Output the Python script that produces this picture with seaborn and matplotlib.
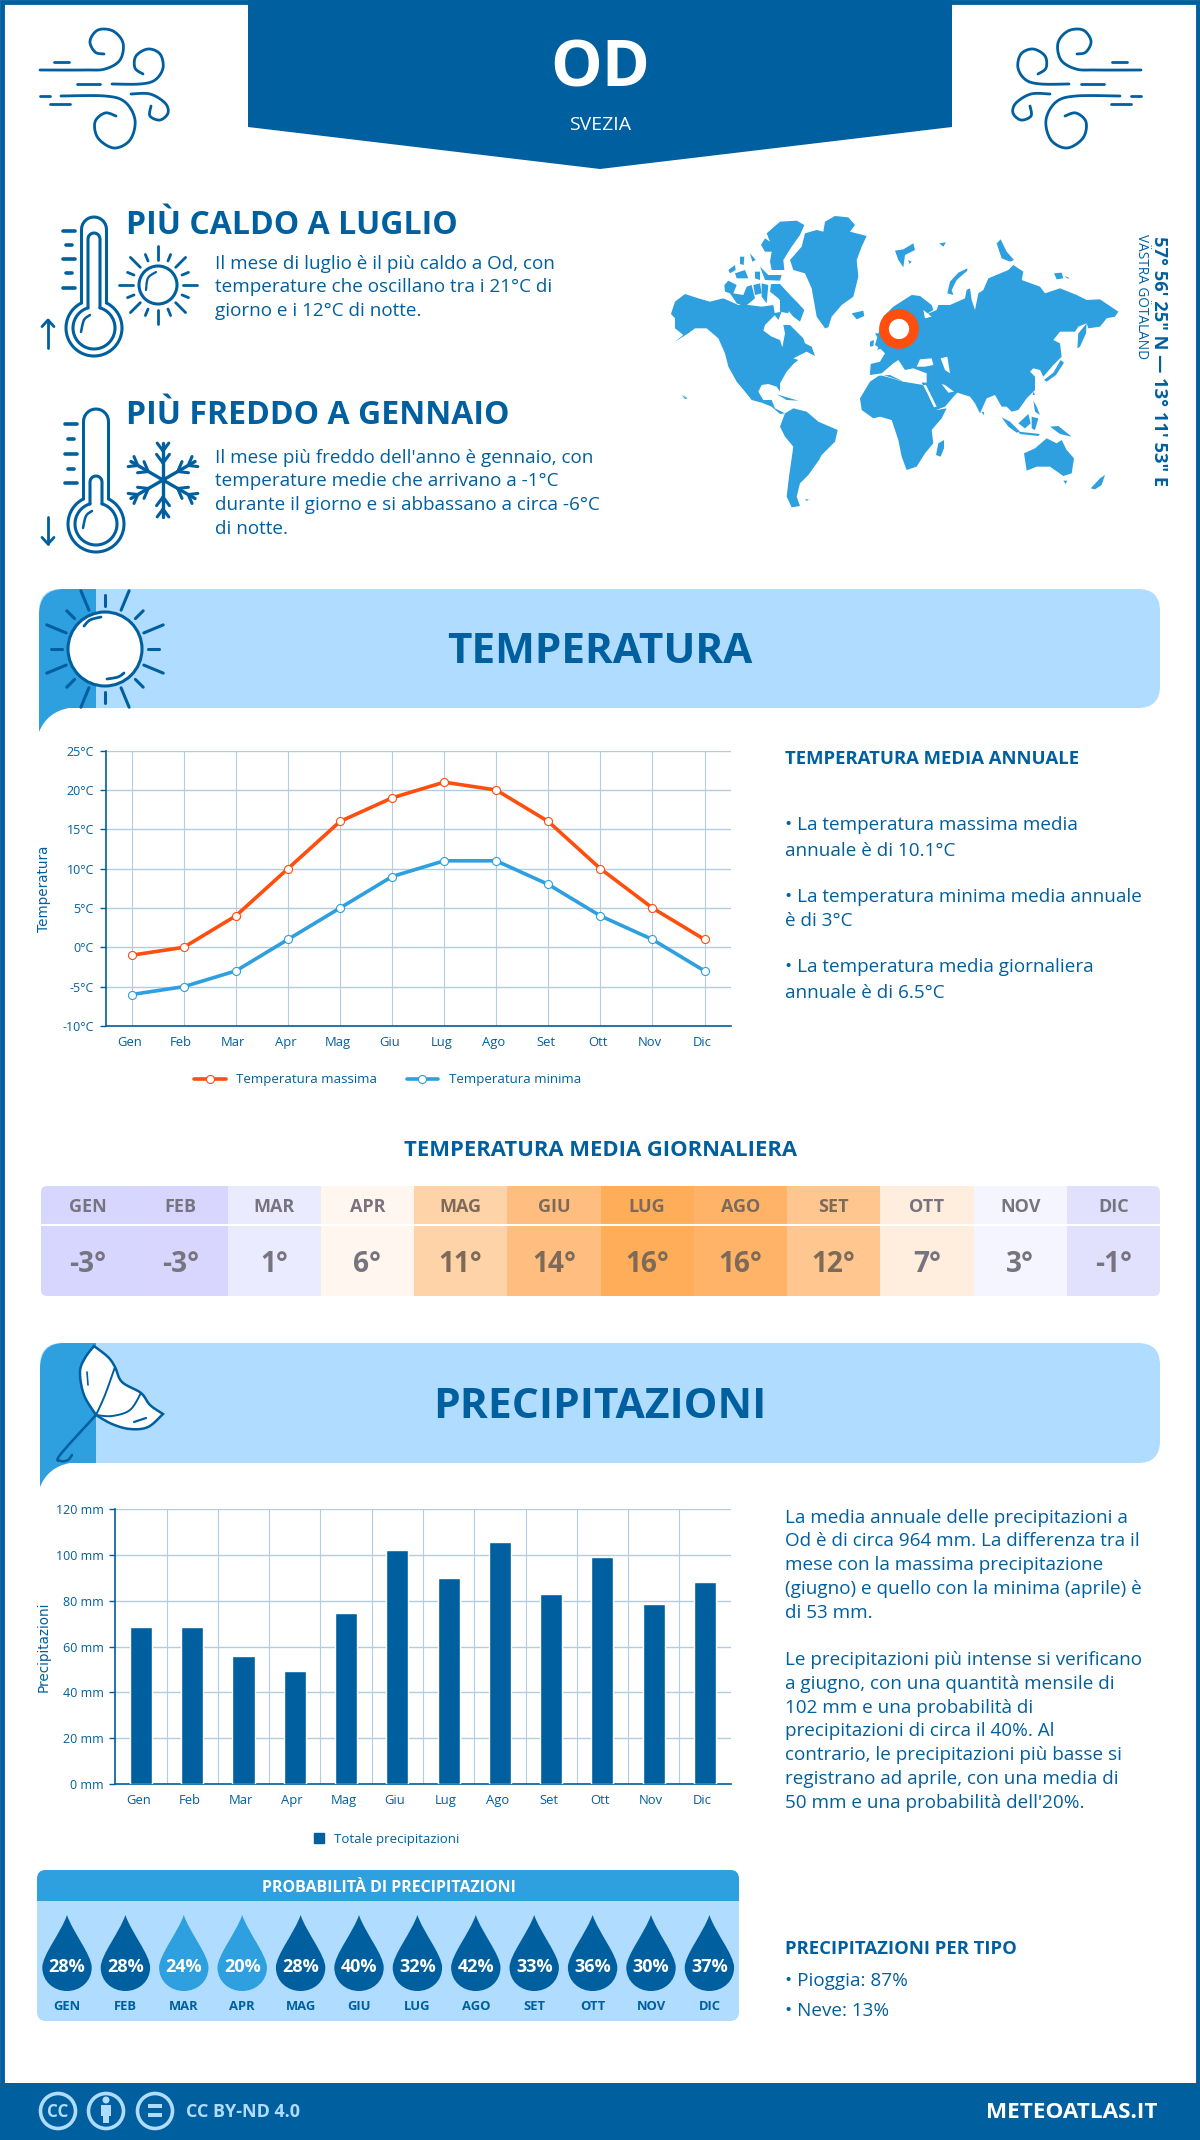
import numpy as np
import pandas as pd
import matplotlib
matplotlib.use("Agg")
import matplotlib.pyplot as plt
import seaborn as sns
from matplotlib.path import Path
from matplotlib.patches import PathPatch, Polygon, Circle, FancyBboxPatch, Patch
from matplotlib.colors import LinearSegmentedColormap
from matplotlib.transforms import ScaledTranslation

# data
months = ["Gen", "Feb", "Mar", "Apr", "Mag", "Giu", "Lug", "Ago", "Set", "Ott", "Nov", "Dic"]
months_upper = ["GEN", "FEB", "MAR", "APR", "MAG", "GIU", "LUG", "AGO", "SET", "OTT", "NOV", "DIC"]
temp_max = [-1, 0, 4, 10, 16, 19, 21, 20, 16, 10, 5, 1]
temp_min = [-6, -5, -3, 1, 5, 9, 11, 11, 8, 4, 1, -3]
temp_ticks = [-10, -5, 0, 5, 10, 15, 20, 25]
temp_daily = [-3.5, -2.5, 0.5, 5.5, 10.5, 14, 16, 15.5, 12, 7, 3, -1]
temp_daily_labels = ["-3°", "-3°", "1°", "6°", "11°", "14°", "16°", "16°", "12°", "7°", "3°", "-1°"]
precip = [68.7, 68.7, 56, 49.5, 74.8, 102.3, 90, 105.7, 83, 99.2, 78.7, 88.3]
precip_ticks = [0, 20, 40, 60, 80, 100, 120]
rain_prob = [28, 28, 24, 20, 28, 40, 32, 42, 33, 36, 30, 37]

DARK = "#005f9e"
MID = "#2e9fdf"
LIGHT = "#b0dcff"
ORANGE = "#ff4e0d"
GRID = "#b3cde0"

sns.set_theme(style="white")
plt.rcParams["font.family"] = ["Open Sans", "DejaVu Sans"]

W, H = 1200, 2140
fig = plt.figure(figsize=(W / 100, H / 100), dpi=100, facecolor="white")

# whole page axes in pixels, everything decorative goes here
page = fig.add_axes([0, 0, 1, 1])
page.set_xlim(0, W)
page.set_ylim(H, 0)
page.axis("off")


def px(size):
    return size * 0.72


def text(x, y, s, size, color=DARK, weight="normal", ha="left", **kw):
    return page.text(x, y, s, fontsize=px(size), color=color, fontweight=weight, ha=ha, va="center", **kw)


def axes_px(left, top, right, bottom):
    return fig.add_axes([left / W, 1 - bottom / H, (right - left) / W, (bottom - top) / H])


def smooth(points, n=14):
    # catmull-rom through the points, good enough for the icons
    p = np.array(points, dtype=float)
    p = np.vstack([p[0], p, p[-1]])
    out = []
    for i in range(1, len(p) - 2):
        for t in np.linspace(0, 1, n, endpoint=False):
            out.append(0.5 * (2 * p[i] + (p[i + 1] - p[i - 1]) * t
                              + (2 * p[i - 1] - 5 * p[i] + 4 * p[i + 1] - p[i + 2]) * t ** 2
                              + (3 * p[i] - p[i - 1] - 3 * p[i + 1] + p[i + 2]) * t ** 3))
    out.append(p[-2])
    return np.array(out)


def stroke(points, lw=2.0, color=DARK, curve=True, z=3):
    pts = smooth(points) if curve else np.array(points, dtype=float)
    page.plot(pts[:, 0], pts[:, 1], color=color, lw=lw, solid_capstyle="round", zorder=z)


# frame and footer
page.add_patch(plt.Rectangle((1.5, 1.5), W - 3.5, H - 3, fill=False, ec=DARK, lw=3.5))
page.add_patch(plt.Rectangle((0, 2083), W, 57, color=DARK, lw=0))

# header
page.add_patch(Polygon([(248, 0), (952, 0), (952, 127), (600, 169), (248, 127)], color=DARK, lw=0))
text(600, 70, "OD", 65, "white", "bold", ha="center")
text(600, 125, "SVEZIA", 19.5, "white", ha="center")


# wind icons
def wind(fx):
    def pts(lst):
        return [(fx(x), y) for x, y in lst]
    stroke(pts([(40, 70), (85, 70), (105, 69), (120, 60), (123, 43), (113, 31), (98, 30), (90, 41), (95, 52), (104, 54)]))
    stroke(pts([(112, 84), (140, 84), (155, 80), (163, 68), (160, 54), (148, 49), (136, 56), (135, 68), (143, 74)]))
    stroke(pts([(54, 62), (69, 62)]), curve=False)
    stroke(pts([(77, 84), (100, 84)]), curve=False)
    stroke(pts([(40, 96), (50, 96)]), curve=False)
    stroke(pts([(61, 96), (105, 96), (125, 102), (135, 120), (130, 140), (114, 148), (98, 138), (95, 122), (105, 113), (116, 116)]))
    stroke(pts([(131, 94), (150, 94), (165, 103), (168, 113), (160, 120), (150, 116), (151, 106)]))
    stroke(pts([(50, 104), (70, 104)]), curve=False)


wind(lambda x: x)
wind(lambda x: 1181 - x)


def thermometer(cx, cy, top, inner_top, ticks, arrow_from, arrow_to):
    r = 28
    half = 12.5
    d1 = np.arcsin(half / r)
    theta = np.linspace(np.pi / 2 - d1, -3 * np.pi / 2 + d1, 70)
    outer = [(cx + r * np.cos(t), cy - r * np.sin(t)) for t in theta]
    tube = [(cx - half, cy - r * np.cos(d1)), (cx - half, top + half)] + \
           [(cx - half * np.cos(t), top + half - half * np.sin(t)) for t in np.linspace(0, np.pi, 15)] + \
           [(cx + half, cy - r * np.cos(d1))]
    stroke(tube, curve=False, lw=2.2)
    stroke(outer, curve=False, lw=2.2)
    r2 = 21
    h2 = 6
    d2 = np.arcsin(h2 / r2)
    theta2 = np.linspace(np.pi / 2 - d2, -3 * np.pi / 2 + d2, 60)
    stroke([(cx + r2 * np.cos(t), cy - r2 * np.sin(t)) for t in theta2], curve=False, lw=2.2)
    stroke([(cx - h2, cy - r2 * np.cos(d2)), (cx - h2, inner_top + h2)] +
           [(cx - h2 * np.cos(t), inner_top + h2 - h2 * np.sin(t)) for t in np.linspace(0, np.pi, 12)] +
           [(cx + h2, cy - r2 * np.cos(d2))], curve=False, lw=2.2)
    stroke([(cx - 13, cy + 4), (cx - 10, cy - 8), (cx - 4, cy - 13)], lw=1.8)
    for i, y in enumerate(ticks):
        stroke([(cx - 31 + (3 if i % 2 else 0), y), (cx - 19 - (3 if i % 2 else 0), y)], curve=False, lw=2.6)
    ax_ = 48
    stroke([(ax_, arrow_from), (ax_, arrow_to)], curve=False, lw=2.0)
    d = 6 if arrow_to < arrow_from else -6
    stroke([(ax_ - 6, arrow_to + d * 1.1), (ax_, arrow_to), (ax_ + 6, arrow_to + d * 1.1)], curve=False, lw=2.0)


thermometer(94, 328, 217, 233, [231, 245, 259, 273, 288], 348, 320)
thermometer(96, 524, 409, 476, [424, 439, 454, 469, 483], 517, 544)

# small sun
page.add_patch(Circle((158, 285), 19, fc="white", ec=DARK, lw=2.2, zorder=3))
stroke([(146, 290), (148, 278), (156, 272)], lw=1.6)
for k in range(16):
    a = k * np.pi / 8
    r0, r1 = (25, 39) if k % 2 == 0 else (26, 33)
    stroke([(158 + r0 * np.cos(a), 285 + r0 * np.sin(a)), (158 + r1 * np.cos(a), 285 + r1 * np.sin(a))], curve=False, lw=2.0)

# snowflake
for k in range(6):
    a = k * np.pi / 3 + np.pi / 2
    ca, sa = np.cos(a), np.sin(a)
    stroke([(163, 480), (163 + 37 * ca, 480 + 37 * sa)], curve=False, lw=2.4)
    for rr, ss in [(30, 9), (18, 10)]:
        for sign in (-1, 1):
            b = a + sign * 0.7
            stroke([(163 + (rr - ss * 0.1) * ca, 480 + (rr - ss * 0.1) * sa),
                    (163 + rr * ca + ss * np.cos(b), 480 + rr * sa + ss * np.sin(b))], curve=False, lw=2.2)

# intro texts
text(126, 225, "PIÙ CALDO A LUGLIO", 32, weight="bold")
for y, line in zip([264, 287, 311], ["Il mese di luglio è il più caldo a Od, con",
                                     "temperature che oscillano tra i 21°C di",
                                     "giorno e i 12°C di notte."]):
    text(215, y, line, 18.85)
text(126, 415, "PIÙ FREDDO A GENNAIO", 32, weight="bold")
for y, line in zip([458, 481, 505, 529], ["Il mese più freddo dell'anno è gennaio, con",
                                          "temperature medie che arrivano a -1°C",
                                          "durante il giorno e si abbassano a circa -6°C",
                                          "di notte."]):
    text(215, y, line, 18.85)

# world map outlines, traced by hand, in two crops of the map
land_west = [
    [(20, 305), (30, 275), (60, 252), (100, 265), (135, 275), (175, 265), (220, 285), (250, 285), (290, 290), (325, 285),
     (330, 315), (300, 345), (295, 362), (320, 380), (345, 390), (352, 412), (360, 370), (355, 345), (375, 345), (395, 365),
     (415, 385), (420, 400), (440, 410), (450, 438), (425, 425), (395, 440), (385, 445), (400, 450), (385, 462), (365, 485),
     (345, 520), (345, 545), (335, 530), (310, 522), (290, 525), (280, 545), (295, 570), (320, 570), (330, 595), (360, 610),
     (345, 612), (320, 590), (290, 578), (260, 570), (240, 545), (215, 515), (190, 470), (180, 430), (160, 385), (125, 355),
     (90, 355), (70, 370), (30, 395), (55, 375), (30, 355), (30, 325), (18, 312)],
    [(318, 222), (345, 222), (375, 255), (395, 275), (418, 300), (405, 335), (385, 320), (360, 290), (340, 265), (315, 245)],
    [(305, 70), (345, 35), (395, 32), (418, 45), (405, 75), (380, 110), (355, 150), (358, 180), (320, 180), (315, 155),
     (320, 125), (300, 125), (288, 105), (300, 85), (315, 95)],
    [(375, 150), (410, 110), (420, 70), (455, 60), (475, 65), (480, 35), (510, 18), (550, 22), (570, 45), (555, 65), (605, 78),
     (590, 110), (575, 150), (580, 200), (565, 260), (530, 285), (500, 320), (490, 352), (480, 355), (455, 320), (448, 280),
     (440, 235), (420, 190), (385, 180)],
    [(178, 225), (190, 212), (215, 225), (205, 250), (235, 255), (245, 230), (260, 225), (270, 265), (240, 290), (215, 280),
     (195, 250), (180, 245)],
    [(190, 180), (210, 165), (212, 180), (195, 190)],
    [(210, 190), (240, 180), (250, 205), (215, 205)],
    [(255, 130), (272, 150), (262, 155)],
    [(225, 140), (238, 140), (236, 165), (225, 162)],
    [(270, 185), (285, 185), (285, 210), (270, 205)],
    [(285, 170), (310, 195), (350, 195), (345, 212), (300, 210)],
    [(265, 225), (285, 220), (290, 250), (270, 255)],
    [(290, 220), (310, 225), (305, 280), (290, 260)],
    [(325, 310), (350, 305), (340, 330)],
    [(345, 270), (375, 285), (370, 310), (345, 305)],
    [(560, 310), (595, 302), (598, 318), (575, 328)],
    [(335, 553), (365, 562), (400, 572), (365, 570)],
    [(50, 555), (68, 565), (60, 567)],
    [(345, 650), (360, 610), (385, 595), (425, 605), (460, 635), (518, 660), (510, 695), (470, 735), (462, 750), (430, 795),
     (405, 820), (395, 860), (405, 888), (380, 892), (365, 860), (372, 800), (385, 710), (360, 680)],
    [(420, 868), (432, 868), (425, 873)],
]
land_east = [
    # eurasia, europe to arabia
    [(0, 490), (2, 462), (30, 455), (45, 430), (30, 415), (15, 405), (40, 320), (70, 290), (125, 255), (150, 258), (185, 285),
     (190, 300), (165, 315), (200, 300), (205, 285), (240, 285), (285, 265), (290, 240), (300, 235), (305, 270), (315, 300),
     (325, 250), (340, 240), (355, 205), (415, 180), (430, 165), (460, 185), (455, 210), (510, 230), (525, 250), (570, 235),
     (620, 255), (650, 270), (690, 268), (745, 305), (735, 320), (710, 325), (690, 350), (655, 355), (650, 340), (625, 350),
     (615, 365), (570, 365), (550, 390), (570, 400), (575, 440), (550, 465), (520, 500), (510, 480), (490, 475), (480, 485),
     (495, 500), (495, 540), (470, 565), (445, 600), (425, 605), (410, 590), (395, 590), (375, 555), (350, 565), (330, 610),
     (315, 580), (300, 560), (262, 548), (255, 555), (225, 590), (198, 600), (165, 530), (155, 520), (165, 500), (130, 500),
     (100, 515), (40, 495), (0, 495)],
    # africa
    [(-30, 565), (0, 515), (30, 495), (100, 515), (160, 525), (200, 600), (230, 595), (215, 625), (185, 660), (190, 700),
     (165, 730), (140, 770), (110, 780), (95, 740), (85, 690), (65, 630), (30, 620), (10, 625), (-25, 600)],
    # islands
    [(198, 735), (205, 700), (222, 690), (222, 715), (212, 740)],
    [(522, 510), (550, 488), (572, 450), (582, 458), (558, 495), (530, 515)],
    [(622, 415), (625, 370), (650, 340), (648, 370), (630, 410)],
    [(75, 122), (100, 118), (130, 100), (135, 120), (105, 135), (100, 172), (85, 150)],
    [(115, 150), (125, 155), (118, 162)],
    [(208, 100), (228, 97), (220, 110)],
    [(380, 100), (392, 88), (410, 125), (432, 150), (420, 155), (395, 145)],
    [(232, 250), (240, 215), (265, 188), (292, 175), (292, 182), (260, 210), (245, 240), (250, 255)],
    [(552, 190), (575, 188), (580, 205), (560, 208)],
    [(585, 198), (600, 205), (590, 205)],
    [(15, 370), (25, 370), (45, 410), (22, 420), (30, 395)],
    [(0, 395), (12, 390), (10, 408), (0, 410)],
    [(462, 730), (495, 715), (530, 685), (560, 700), (575, 690), (590, 720), (612, 745), (605, 790), (580, 798), (540, 770),
     (500, 770), (470, 782)],
    [(580, 812), (592, 812), (587, 822)],
    [(662, 835), (690, 805), (705, 795), (695, 825), (675, 838)],
    [(395, 622), (420, 635), (450, 665), (440, 668), (415, 650)],
    [(445, 665), (510, 672), (505, 678), (450, 672)],
    [(445, 640), (475, 612), (482, 640), (465, 655)],
    [(485, 620), (505, 625), (495, 660), (485, 655)],
    [(540, 650), (565, 648), (605, 680), (570, 672)],
    [(490, 572), (500, 590), (510, 615), (495, 605)],
    [(490, 545), (495, 555), (488, 555)],
    [(335, 605), (343, 607), (340, 616)],
]
sea_east = [
    [(0, 495), (35, 490), (70, 460), (85, 450), (105, 480), (130, 475), (170, 490), (170, 518), (100, 515), (60, 495), (5, 498)],
    [(140, 470), (150, 448), (185, 445), (190, 465), (165, 470)],
    [(212, 445), (232, 440), (240, 490), (225, 480)],
    [(160, 525), (168, 525), (200, 590), (192, 592)],
    [(215, 522), (225, 525), (252, 545), (235, 548)],
    [(160, 300), (185, 320), (165, 325)],
]


def west_xy(pts):
    return [(665 + x / 3, 210 + y / 3) for x, y in pts]


def east_xy(pts):
    return [(870 + x / 3, 210 + y / 3) for x, y in pts]


for poly in land_west:
    page.add_patch(Polygon(west_xy(poly), color=MID, lw=0, zorder=2))
for poly in land_east:
    page.add_patch(Polygon(east_xy(poly), color=MID, lw=0, zorder=2))
for poly in sea_east:
    page.add_patch(Polygon(east_xy(poly), color="white", lw=0, zorder=2))
page.add_patch(Circle((899, 329), 15, fc="white", ec=ORANGE, lw=7, zorder=3))
text(1159, 361, "57° 56' 25\" N — 13° 11' 53\" E", 18.3, weight="bold", ha="center", rotation=-90)
text(1141, 297, "VÄSTRA GÖTALAND", 13.6, ha="center", rotation=-90)


def banner(left, top, bottom, title, size):
    page.add_patch(FancyBboxPatch((left, top), 1160 - left, bottom - top, boxstyle="round,pad=0,rounding_size=22", fc=LIGHT, ec="none"))
    tail = Path([(96, top), (64, top), (left, top), (left, top + 26), (left, bottom + 24), (left + 8, bottom + 4), (left + 30, bottom),
                 (96, bottom), (96, top)],
                [Path.MOVETO, Path.LINETO, Path.CURVE3, Path.CURVE3, Path.LINETO, Path.CURVE3, Path.CURVE3, Path.LINETO, Path.CLOSEPOLY])
    page.add_patch(PathPatch(tail, fc=MID, ec="none", zorder=1))
    text(600, (top + bottom) / 2 + 4, title, size, weight="bold", ha="center")


banner(39, 589, 708, "TEMPERATURA", 42.3)
banner(40, 1343, 1463, "PRECIPITAZIONI", 42.5)

# banner sun
page.add_patch(Circle((105, 649), 37, fc="white", ec=DARK, lw=2.2, zorder=3))
stroke([(84, 626), (90, 620), (101, 617)], lw=2)
stroke([(107, 679), (118, 677), (124, 673)], lw=2)
for k in range(16):
    a = k * np.pi / 8
    r0, r1 = (43, 54) if k % 2 == 0 else (42, 63)
    stroke([(105 + r0 * np.cos(a), 649 + r0 * np.sin(a)), (105 + r1 * np.cos(a), 649 + r1 * np.sin(a))], curve=False, lw=2.2)

# umbrella
canopy = np.vstack([smooth([(94, 1346), (108, 1357), (115, 1367), (122, 1382), (141, 1393), (150, 1405), (163, 1414)]),
                    smooth([(163, 1414), (148, 1427), (130, 1429), (112, 1424), (96, 1415)]),
                    smooth([(96, 1415), (84, 1395), (80, 1372), (85, 1358), (94, 1346)])])
page.add_patch(Polygon(canopy, fc="white", ec=DARK, lw=1.8, zorder=3))
stroke([(115, 1367), (105, 1395), (96, 1415)], lw=1.4)
stroke([(141, 1393), (130, 1410), (112, 1416), (96, 1415)], lw=1.4)
stroke([(87, 1372), (88, 1385)], lw=1.2)
stroke([(134, 1422), (146, 1418)], lw=1.6)
stroke([(96, 1415), (60, 1455), (61, 1461), (68, 1460), (72, 1455)], lw=1.8)

# temperature chart
ax = axes_px(105.6, 750.7, 730.6, 1026)
ax.patch.set_alpha(0)
sns.lineplot(x=months, y=temp_max, sort=False, ax=ax, color=ORANGE, lw=2.6, marker="o", ms=5.8, mfc="white", mec=ORANGE, mew=0.8,
             label="Temperatura massima", errorbar=None)
sns.lineplot(x=months, y=temp_min, sort=False, ax=ax, color=MID, lw=2.6, marker="o", ms=5.8, mfc="white", mec=MID, mew=0.8,
             label="Temperatura minima", errorbar=None)
ax.set_xlim(-0.5, 11.5)
ax.set_ylim(-10, 25)
ax.set_yticks(temp_ticks)
ax.set_yticklabels([f"{v}°C" for v in temp_ticks])
ax.legend(loc="center", bbox_to_anchor=((387.5 - 105.6) / 625, (1026 - 1080) / 275.3), ncol=2, frameon=False, fontsize=px(13.3),
          labelcolor=DARK, handlelength=2.4, columnspacing=2.2, handletextpad=0.8)
ax.set_ylabel("Temperatura", color=DARK, fontsize=px(13.5), family="DejaVu Sans", labelpad=0)
ax.yaxis.set_label_coords((51 - 105.6) / 625, 0.5)

# precipitation chart
ax2 = axes_px(115.3, 1509, 730.6, 1784)
ax2.patch.set_alpha(0)
sns.barplot(x=months, y=precip, ax=ax2, color=DARK, saturation=1, width=0.43, zorder=3)
ax2.set_xlim(-0.5, 11.5)
ax2.set_ylim(0, 120)
ax2.set_yticks(precip_ticks)
ax2.set_yticklabels([f"{v} mm" for v in precip_ticks])
ax2.set_xticks(np.arange(0.5, 11, 1), minor=True)
ax2.legend(handles=[Patch(color=DARK, label="Totale precipitazioni")], loc="center",
           bbox_to_anchor=((387 - 115.3) / 615.3, (1784 - 1839) / 275), frameon=False, fontsize=px(13.3), labelcolor=DARK,
           handlelength=0.7, handleheight=0.7, handletextpad=0.8)
ax2.set_ylabel("Precipitazioni", color=DARK, fontsize=px(13.5), family="DejaVu Sans", labelpad=0)
ax2.yaxis.set_label_coords((51 - 115.3) / 615.3, 0.5)

for a_ in (ax, ax2):
    a_.set_axisbelow(True)
    a_.set_xlabel("")
    a_.grid(axis="y", color=GRID, lw=1.0)
    a_.tick_params(axis="y", which="major", length=6 * 0.72, width=1, color=DARK, labelcolor=DARK, labelsize=px(12.5), pad=4, left=True)
    a_.tick_params(axis="x", which="both", length=0, labelcolor=DARK, labelsize=px(13), pad=7.5)
    for side in ("top", "right"):
        a_.spines[side].set_visible(False)
    for side in ("left", "bottom"):
        a_.spines[side].set_color(DARK)
        a_.spines[side].set_linewidth(1.2)
    shift = ScaledTranslation(-2.5 / 100, 0, fig.dpi_scale_trans)
    for lbl in a_.get_xticklabels():
        lbl.set_transform(lbl.get_transform() + shift)
ax.grid(axis="x", color=GRID, lw=0.8)
ax2.grid(axis="x", which="minor", color=GRID, lw=0.8)
ax2.grid(axis="x", which="major", visible=False)

# side texts
text(785, 759, "TEMPERATURA MEDIA ANNUALE", 18.5, weight="bold")
for y, line in zip([825.5, 850.5, 896.5, 921.5, 967.5, 992.5], ["• La temperatura massima media",
                                                                "annuale è di 10.1°C",
                                                                "• La temperatura minima media annuale",
                                                                "è di 3°C",
                                                                "• La temperatura media giornaliera",
                                                                "annuale è di 6.5°C"]):
    text(785, y, line, 18.85)

para = ["La media annuale delle precipitazioni a", "Od è di circa 964 mm. La differenza tra il",
        "mese con la massima precipitazione", "(giugno) e quello con la minima (aprile) è", "di 53 mm."]
para2 = ["Le precipitazioni più intense si verificano", "a giugno, con una quantità mensile di",
         "102 mm e una probabilità di", "precipitazioni di circa il 40%. Al", "contrario, le precipitazioni più basse si",
         "registrano ad aprile, con una media di", "50 mm e una probabilità dell'20%."]
for y, line in zip([1518, 1541, 1565, 1589, 1613], para):
    text(785, y, line, 18.85)
for y, line in zip([1660, 1684, 1708, 1731, 1755, 1779, 1803], para2):
    text(785, y, line, 18.85)
text(785, 1949, "PRECIPITAZIONI PER TIPO", 18.5, weight="bold")
text(785, 1981.5, "• Pioggia: 87%", 18.85)
text(785, 2010.5, "• Neve: 13%", 18.85)

# daily mean temperature table
text(600, 1150, "TEMPERATURA MEDIA GIORNALIERA", 22, weight="bold", ha="center")
heat_cmap = LinearSegmentedColormap.from_list("meteo", [
    (0.0, "#d6d6ff"), (1.0 / 19.5, "#d8d6fe"), (2.5 / 19.5, "#e2e1fd"), (4.0 / 19.5, "#ebebff"), (6.5 / 19.5, "#f5f5ff"),
    (9.0 / 19.5, "#fff6ef"), (10.5 / 19.5, "#ffeddd"), (14.0 / 19.5, "#ffd3a8"), (15.5 / 19.5, "#ffc78f"),
    (17.5 / 19.5, "#ffbe7f"), (19.0 / 19.5, "#ffb469"), (1.0, "#ffad59")])
ax3 = axes_px(41, 1186, 1160, 1296)
sns.heatmap(pd.DataFrame([temp_daily], columns=months), ax=ax3, cmap=heat_cmap, vmin=-3.5, vmax=16, cbar=False,
            xticklabels=False, yticklabels=False)
clip = FancyBboxPatch((41, 1186), 1119, 110, boxstyle="round,pad=0,rounding_size=6", transform=page.transData, fc="none", ec="none")
page.add_patch(clip)
ax3.collections[0].set_clip_path(clip)
ax3.axis("off")
ax3.set_ylim(1296, 1186)
ax3.collections[0].set_transform(matplotlib.transforms.Affine2D().scale(1, 110).translate(0, 1186) + ax3.transData)
for i in range(12):
    ink = "#77747f" if temp_daily[i] < 8 else "#7d6a58"
    ax3.text(i + 0.5, 1207, months_upper[i], color=ink, fontsize=px(18), fontweight="bold", ha="center", va="center")
    ax3.text(i + 0.5, 1264, temp_daily_labels[i], color=ink, fontsize=px(28), fontweight="bold", ha="center", va="center")
ax3.plot([0, 12], [1225, 1225], color="white", lw=1.5)

# rain probability panel
page.add_patch(FancyBboxPatch((37, 1870), 702, 151, boxstyle="round,pad=0,rounding_size=9", fc=LIGHT, ec="none"))
head = FancyBboxPatch((37, 1870), 702, 40, boxstyle="round,pad=0,rounding_size=9", fc=MID, ec="none", zorder=1)
page.add_patch(head)
page.add_patch(plt.Rectangle((37, 1901), 702, 12, color=LIGHT, lw=0, zorder=1))
text(389, 1888, "PROBABILITÀ DI PRECIPITAZIONI", 16, "white", "bold", ha="center", zorder=2)

drop = Path([(0, 1), (0.15, 0.55), (0.65, -0.05), (0.65, -0.38), (0.65, -0.75), (0.35, -1), (0, -1),
             (-0.35, -1), (-0.65, -0.75), (-0.65, -0.38), (-0.65, -0.05), (-0.15, 0.55), (0, 1), (0, 1)],
            [Path.MOVETO] + [Path.CURVE4] * 12 + [Path.CLOSEPOLY])
ax4 = axes_px(37, 1901, 739, 2021)
ax4.patch.set_alpha(0)
rain_df = pd.DataFrame({"i": np.arange(12), "y": 1953, "level": ["bassa" if p <= 24 else "alta" for p in rain_prob]})
sns.scatterplot(data=rain_df, x="i", y="y", hue="level", palette={"alta": DARK, "bassa": MID}, marker=drop, s=(76 * 0.72) ** 2,
                linewidth=0, legend=False, ax=ax4)
ax4.set_xlim((37 - 67) / 58.4, (739 - 67) / 58.4)
ax4.set_ylim(2021, 1901)
ax4.axis("off")
for i in range(12):
    ax4.text(i, 1967, f"{rain_prob[i]}%", color="white", fontsize=px(18), fontweight="bold", ha="center", va="center")
    ax4.text(i, 2006, months_upper[i], color=DARK, fontsize=px(13), fontweight="bold", ha="center", va="center")

# footer
for cx in (58, 106, 155):
    page.add_patch(Circle((cx, 2111), 17.5, fc="none", ec=LIGHT, lw=2.6, zorder=3))
text(58, 2112, "CC", 17, LIGHT, "bold", ha="center")
page.add_patch(Circle((106, 2100), 3.5, color=LIGHT, lw=0, zorder=3))
page.add_patch(plt.Rectangle((101, 2105), 10, 11, color=LIGHT, lw=0, zorder=3))
page.add_patch(plt.Rectangle((103, 2115), 6, 8, color=LIGHT, lw=0, zorder=3))
page.add_patch(plt.Rectangle((148, 2104), 14, 3.5, color=LIGHT, lw=0, zorder=3))
page.add_patch(plt.Rectangle((148, 2113), 14, 3.5, color=LIGHT, lw=0, zorder=3))
text(186, 2112, "CC BY-ND 4.0", 18, LIGHT, "bold")
text(1158, 2113, "METEOATLAS.IT", 22.5, "white", "bold", ha="right")

fig.savefig("out.png", dpi=100)
